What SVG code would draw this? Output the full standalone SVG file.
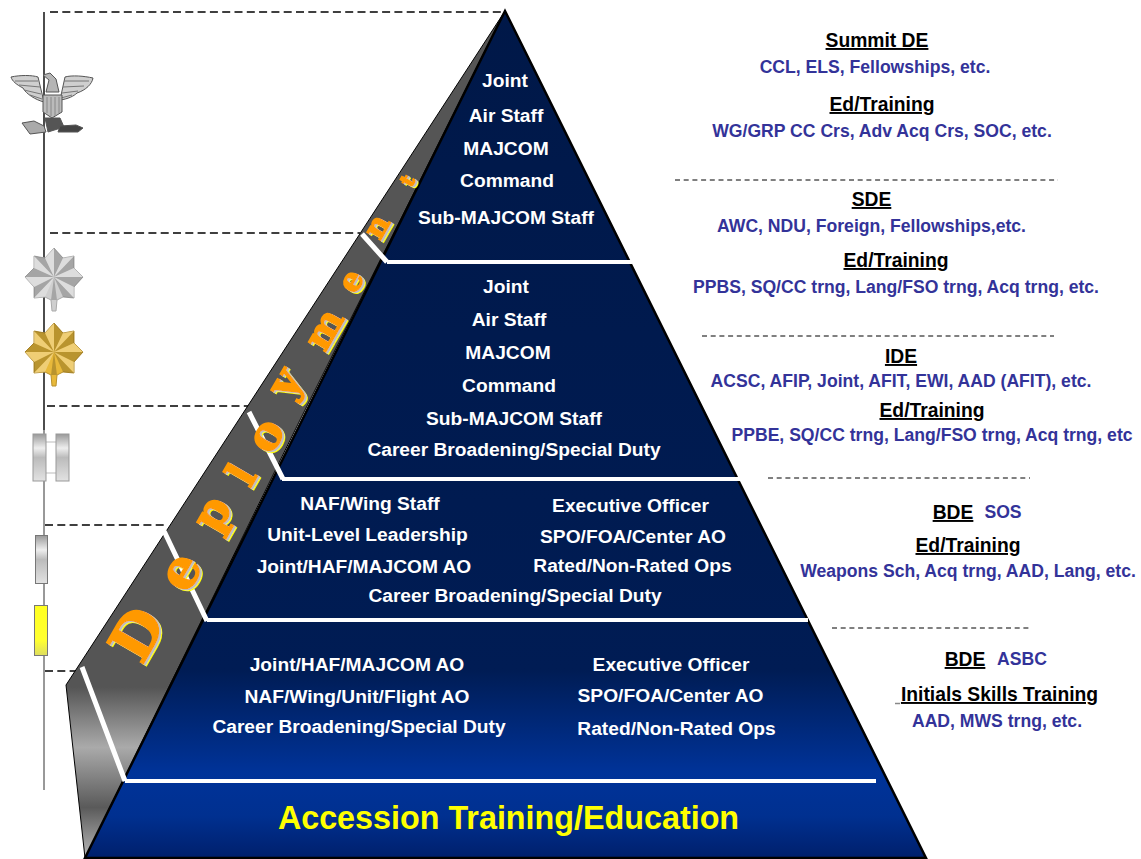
<svg xmlns="http://www.w3.org/2000/svg" width="1141" height="859" viewBox="0 0 1141 859">
<defs>
<linearGradient id="navy" gradientUnits="userSpaceOnUse" x1="0" y1="0" x2="0" y2="859"><stop offset="0" stop-color="#001848"/><stop offset="0.78" stop-color="#001c54"/><stop offset="0.9" stop-color="#003399"/><stop offset="0.95" stop-color="#003090"/><stop offset="1" stop-color="#001f6b"/></linearGradient>
<linearGradient id="band" gradientUnits="userSpaceOnUse" x1="0" y1="0" x2="0" y2="859"><stop offset="0.8" stop-color="#555"/><stop offset="0.87" stop-color="#aaa"/><stop offset="0.94" stop-color="#5a5a5a"/><stop offset="1" stop-color="#bbb"/></linearGradient>
<linearGradient id="bar" x1="0" y1="0" x2="0" y2="1"><stop offset="0" stop-color="#999"/><stop offset="0.3" stop-color="#eee"/><stop offset="0.5" stop-color="#bbb"/><stop offset="1" stop-color="#e2e2e2"/></linearGradient>
<linearGradient id="ybar" x1="0" y1="0" x2="0" y2="1"><stop offset="0" stop-color="#ffff20"/><stop offset="0.7" stop-color="#ffff30"/><stop offset="1" stop-color="#dddd60"/></linearGradient>
<filter id="raise" x="-30%" y="-30%" width="160%" height="160%"><feOffset in="SourceAlpha" dx="3" dy="2" result="a"/><feFlood flood-color="#ffff00"/><feComposite in2="a" operator="in" result="y"/><feOffset in="SourceAlpha" dx="2" dy="1" result="b"/><feFlood flood-color="#c0c0c0"/><feComposite in2="b" operator="in" result="g"/><feMerge><feMergeNode in="y"/><feMergeNode in="g"/><feMergeNode in="SourceGraphic"/></feMerge></filter>
<g id="leaf"><path d="M0,-29 L9,-19 L20,-21 L20,-9 L29,0 L20,10 L20,21 L9,20 L3,23 L2,34 L-2,34 L-3,23 L-9,20 L-20,21 L-20,10 L-29,0 L-20,-9 L-20,-21 L-9,-19 Z"/><path d="M0,0L0,-29L9,-19ZM0,0L20,-21L20,-9ZM0,0L29,0L20,10ZM0,0L20,21L9,20ZM0,0L-20,21L-20,10ZM0,0L-29,0L-20,-9ZM0,0L-20,-21L-9,-19ZM0,0L-3,23L3,23Z" fill="#000" fill-opacity="0.2" stroke="none"/><path d="M0,0L0,-29L-9,-19ZM0,0L20,-21L9,-19ZM0,0L29,0L20,-9ZM0,0L20,21L20,10ZM0,0L-20,21L-9,20ZM0,0L-29,0L-20,10ZM0,0L-20,-21L-20,-9Z" fill="#fff" fill-opacity="0.3" stroke="none"/></g>
</defs>
<style>
text{font-family:"Liberation Sans",Arial,sans-serif;font-weight:bold;text-anchor:middle}
.w{fill:#fff;font-size:19.2px}
.h{fill:#000;font-size:19.300px;text-decoration:underline}
.b{fill:#333399;font-size:17.600px}
.dash{fill:none;stroke:#000;stroke-width:1.3;stroke-dasharray:8 4.300}
.dash2{fill:none;stroke:#000;stroke-width:1;stroke-dasharray:5 3.700}
.slash{fill:none;stroke:#fff;stroke-width:5}
</style>
<rect width="1141" height="859" fill="#fff"/>
<g id="connectors">
<path d="M44,12V430" fill="none" stroke="#000" stroke-width="1.4"/><path d="M44,430V790" fill="none" stroke="#333" stroke-width="1"/>
<path class="dash" d="M50,12H502M50,233H360M47,406H250M45,525H165M45,671H78"/>
<path class="dash2" d="M675,180H1058M702,336H1054M768,478H1030M832,628H1030"/>
</g>
<g id="pyramid">
<polygon points="505,11 66,685 85,858 300,420" fill="url(#band)" stroke="#000" stroke-width="1"/>
<polygon points="505,11 926,858 85,858" fill="url(#navy)" stroke="#000" stroke-width="2.5"/>
<path d="M387,262H632M282,479H740M207,620H808M125,781H876" fill="none" stroke="#fff" stroke-width="4"/>
<path class="slash" d="M362,234L387,262M249,412L283,479M164,531L207,621M82,667L125,781"/>
</g>
<g id="deployment">
<text filter="url(#raise)" style="font-family:'DejaVu Serif',serif;text-anchor:start" fill="#ff9900" stroke="#ff9900" stroke-width="1.500"><tspan x="142" y="666" rotate="-60" font-size="58">D</tspan><tspan x="187" y="595" rotate="-60" font-size="54">e</tspan><tspan x="217" y="535" rotate="-60" font-size="46">p</tspan><tspan x="250" y="489" rotate="-60" font-size="42">l</tspan><tspan x="271" y="456" rotate="-60" font-size="46">o</tspan><tspan x="291" y="401" rotate="-60" font-size="44">y</tspan><tspan x="325" y="353" rotate="-60" font-size="38">m</tspan><tspan x="355" y="295" rotate="-60" font-size="32">e</tspan><tspan x="380" y="241" rotate="-60" font-size="30">n</tspan><tspan x="411" y="188" rotate="-60" font-size="20">t</tspan></text>
</g>
<g id="tier1">
<text class="w" x="505" y="87">Joint</text><text class="w" x="506" y="122">Air Staff</text><text class="w" x="506" y="155">MAJCOM</text><text class="w" x="507" y="187">Command</text><text class="w" x="506" y="224">Sub-MAJCOM Staff</text>
</g>
<g id="tier2">
<text class="w" x="506" y="293">Joint</text><text class="w" x="509" y="326">Air Staff</text><text class="w" x="508" y="359">MAJCOM</text><text class="w" x="509" y="392">Command</text><text class="w" x="514" y="425">Sub-MAJCOM Staff</text><text class="w" x="514" y="456">Career Broadening/Special Duty</text>
</g>
<g id="tier3">
<text class="w" x="370" y="510">NAF/Wing Staff</text><text class="w" x="367.500" y="541">Unit-Level Leadership</text><text class="w" x="364" y="573">Joint/HAF/MAJCOM AO</text>
<text class="w" x="630.500" y="512">Executive Officer</text><text class="w" x="633" y="543">SPO/FOA/Center AO</text><text class="w" x="632.500" y="572">Rated/Non-Rated Ops</text>
<text class="w" x="515" y="602">Career Broadening/Special Duty</text>
</g>
<g id="tier4">
<text class="w" x="357" y="671">Joint/HAF/MAJCOM AO</text><text class="w" x="357" y="703">NAF/Wing/Unit/Flight AO</text><text class="w" x="359" y="733">Career Broadening/Special Duty</text>
<text class="w" x="671" y="671">Executive Officer</text><text class="w" x="670.500" y="702">SPO/FOA/Center AO</text><text class="w" x="676.500" y="735">Rated/Non-Rated Ops</text>
</g>
<g id="tier5"><text x="508.500" y="829" fill="#ffff00" style="font-size:32.300px">Accession Training/Education</text></g>
<g id="col-summit"><text class="h" x="877" y="47">Summit DE</text><text class="b" x="875" y="73">CCL, ELS, Fellowships, etc.</text><text class="h" x="882" y="111">Ed/Training</text><text class="b" x="882" y="137">WG/GRP CC Crs, Adv Acq Crs, SOC, etc.</text></g>
<g id="col-sde"><text class="h" x="871.500" y="206">SDE</text><text class="b" x="871.500" y="232">AWC, NDU, Foreign, Fellowships,etc.</text><text class="h" x="896" y="267">Ed/Training</text><text class="b" x="896" y="293">PPBS, SQ/CC trng, Lang/FSO trng, Acq trng, etc.</text></g>
<g id="col-ide"><text class="h" x="901" y="363">IDE</text><text class="b" x="901" y="387">ACSC, AFIP, Joint, AFIT, EWI, AAD (AFIT), etc.</text><text class="h" x="932" y="417">Ed/Training</text><text class="b" x="932" y="441">PPBE, SQ/CC trng, Lang/FSO trng, Acq trng, etc</text></g>
<g id="col-bde"><text class="h" x="953" y="519">BDE</text><text class="b" x="1003" y="518">SOS</text><text class="h" x="968" y="552">Ed/Training</text><text class="b" x="968" y="577">Weapons Sch, Acq trng, AAD, Lang, etc.</text></g>
<g id="col-asbc"><text class="h" x="965" y="666">BDE</text><text class="b" x="1022" y="665">ASBC</text><text class="h" x="999.500" y="701">Initials Skills Training</text><path d="M895,703.500H900" stroke="#888" stroke-width="1.500"/><text class="b" x="997" y="727">AAD, MWS trng, etc.</text></g>
<g id="colonel" stroke="#555" stroke-width="1">
<path d="M11,77C20,75 32,75 38,77L44,102C36,100 26,94 23,88C17,85 12,81 11,77Z" fill="#cfcfcf"/>
<path d="M93,78C84,76 72,75 65,77L60,100C68,99 74,96 77,93C86,90 92,84 93,78Z" fill="#cfcfcf"/>
<path d="M15,81L38,81M19,85L40,87M24,90L41,94M30,95L42,99M89,81L64,81M84,86L63,87M78,91L62,93M72,95L61,98" fill="none" stroke="#777"/>
<path d="M43,75L50,73L56,79L59,92H46L49,80Z" fill="#b5b5b5"/>
<path d="M43,95H62V112L52,118L43,112Z" fill="#bbb"/>
<path d="M47,97V113M51,97V116M55,97V116M59,97V113" fill="none" stroke="#888"/>
<path d="M45,118H60L64,127L48,132Z" fill="#555"/>
<path d="M22,123L34,121L44,126L46,132L30,134Z" fill="#aaa"/>
<path d="M60,126L76,125L83,128L78,132L58,132Z" fill="#444"/>
</g>
<g id="lt-colonel" transform="translate(54,277)" fill="#cfcfcf" stroke="#aaa" stroke-width="1"><use href="#leaf"/></g>
<g id="major" transform="translate(54,352)" fill="#e8b93a" stroke="#b8912e" stroke-width="1"><use href="#leaf"/></g>
<g id="captain"><path d="M46,442H56M46,473H56" stroke="#ddd" stroke-width="2"/><rect x="33" y="434" width="13" height="47" fill="url(#bar)" stroke="#999"/><rect x="56" y="434" width="13" height="47" fill="url(#bar)" stroke="#999"/></g>
<g id="first-lt"><rect x="35.500" y="535.500" width="12" height="48" fill="url(#bar)" stroke="#777"/></g>
<g id="second-lt"><rect x="34.500" y="605.500" width="13" height="50" fill="url(#ybar)" stroke="#777"/></g>
</svg>
